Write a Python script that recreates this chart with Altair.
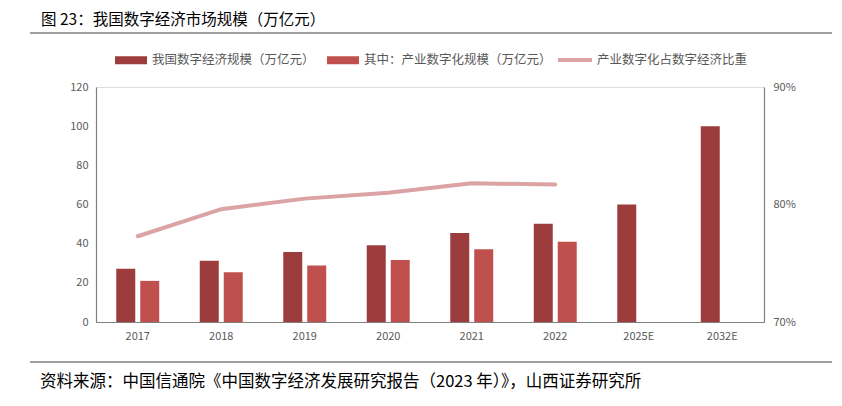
import altair as alt
import pandas as pd

years = ["2017", "2018", "2019", "2020", "2021", "2022", "2025E", "2032E"]
digital_economy = [27.2, 31.3, 35.8, 39.2, 45.5, 50.2, 60.0, 100.0]
industry_digital = [21.0, 25.4, 28.8, 31.7, 37.2, 41.0, None, None]
share_years = ["2017", "2018", "2019", "2020", "2021", "2022"]
share = [0.773, 0.796, 0.805, 0.810, 0.818, 0.817]

s1 = "我国数字经济规模（万亿元）"
s2 = "其中：产业数字化规模（万亿元）"
s3 = "产业数字化占数字经济比重"
title_text = "图 23：我国数字经济市场规模（万亿元）"
source_text = "资料来源：中国信通院《中国数字经济发展研究报告（2023 年）》，山西证券研究所"

rows = []
for y, a, b in zip(years, digital_economy, industry_digital):
    rows.append({"year": y, "series": s1, "value": a})
    if b is not None:
        rows.append({"year": y, "series": s2, "value": b})
bars_df = pd.DataFrame(rows)
line_df = pd.DataFrame({"year": share_years, "share": share, "name": [s3] * len(share_years)})

FONT = "Noto Sans CJK SC"
GRAY = "#595959"
AXC = "#7f7f7f"

xenc = alt.X("year:N", sort=years, scale=alt.Scale(domain=years, paddingInner=0, paddingOuter=0),
             axis=alt.Axis(title=None, labelAngle=0, ticks=False, labelPadding=8, labelFontSize=11,
                           labelColor=GRAY, labelFont=FONT, domainColor=AXC, domainWidth=1.2))

bars = alt.Chart(bars_df).mark_bar().encode(
    x=xenc,
    xOffset=alt.XOffset("series:N", sort=[s1, s2],
                        scale=alt.Scale(domain=[s1, s2], paddingInner=0.208, paddingOuter=0.845)),
    y=alt.Y("value:Q", scale=alt.Scale(domain=[0, 120]),
            axis=alt.Axis(title=None, values=[0, 20, 40, 60, 80, 100, 120], ticks=False, grid=False,
                          labelPadding=8, labelFontSize=11, labelColor=GRAY, labelFont=FONT,
                          domainColor=AXC, domainWidth=1.2)),
    color=alt.Color("series:N", sort=[s1, s2],
                    scale=alt.Scale(domain=[s1, s2], range=["#9c3c3d", "#c0504d"]),
                    legend=alt.Legend(title=None, orient="none", direction="horizontal",
                                      legendX=19, legendY=-43,
                                      symbolType="M-1,-0.25H1V0.25H-1Z", symbolSize=1024,
                                      symbolStrokeWidth=0, symbolOpacity=1,
                                      labelFontSize=12.5, labelColor=GRAY, labelFont=FONT,
                                      labelLimit=400, labelOffset=5, columnPadding=12)),
)

line = alt.Chart(line_df).mark_line(strokeWidth=4, strokeCap="round").encode(
    x=alt.X("year:N", sort=years),
    y=alt.Y("share:Q", scale=alt.Scale(domain=[0.7, 0.9]),
            axis=alt.Axis(title=None, orient="right", values=[0.7, 0.8, 0.9], format=".0%",
                          ticks=False, grid=False, labelPadding=9, labelFontSize=11,
                          labelColor=GRAY, labelFont=FONT, domainColor=AXC, domainWidth=1.2)),
    stroke=alt.Stroke("name:N", scale=alt.Scale(domain=[s3], range=["#dba3a4"]),
                      legend=alt.Legend(title=None, orient="none", direction="horizontal",
                                        legendX=460, legendY=-46,
                                        symbolType="stroke", symbolSize=1156, symbolStrokeWidth=4,
                                        labelFontSize=12.5, labelColor=GRAY, labelFont=FONT,
                                        labelLimit=400, labelOffset=3)),
)

one = pd.DataFrame({"t": [title_text]})
title = alt.Chart(one).mark_text(align="left", baseline="middle", fontSize=15.5, font=FONT,
                                 color="#000000").encode(
    text="t:N", x=alt.value(-55), y=alt.value(-67))
src = alt.Chart(pd.DataFrame({"t": [source_text]})).mark_text(
    align="left", baseline="middle", fontSize=16.5, font=FONT, color="#000000").encode(
    text="t:N", x=alt.value(-56), y=alt.value(295))
rule_top = alt.Chart(one).mark_rule(color="#808080", strokeWidth=1.5).encode(
    x=alt.value(-66), x2=alt.value(736), y=alt.value(-54))
rule_bot = alt.Chart(one).mark_rule(color="#808080", strokeWidth=1.5).encode(
    x=alt.value(-66), x2=alt.value(736), y=alt.value(275))

chart = alt.layer(bars, line, title, src, rule_top, rule_bot).resolve_scale(
    y="independent", color="independent", stroke="independent"
).properties(
    width=668, height=235,
    autosize=alt.AutoSizeParams(type="none"),
    padding={"left": 88, "top": 79, "right": 70, "bottom": 76},
).configure_view(stroke=None).configure(background="white")

chart.save("out.html", embed_options={"renderer": "svg", "actions": False})
